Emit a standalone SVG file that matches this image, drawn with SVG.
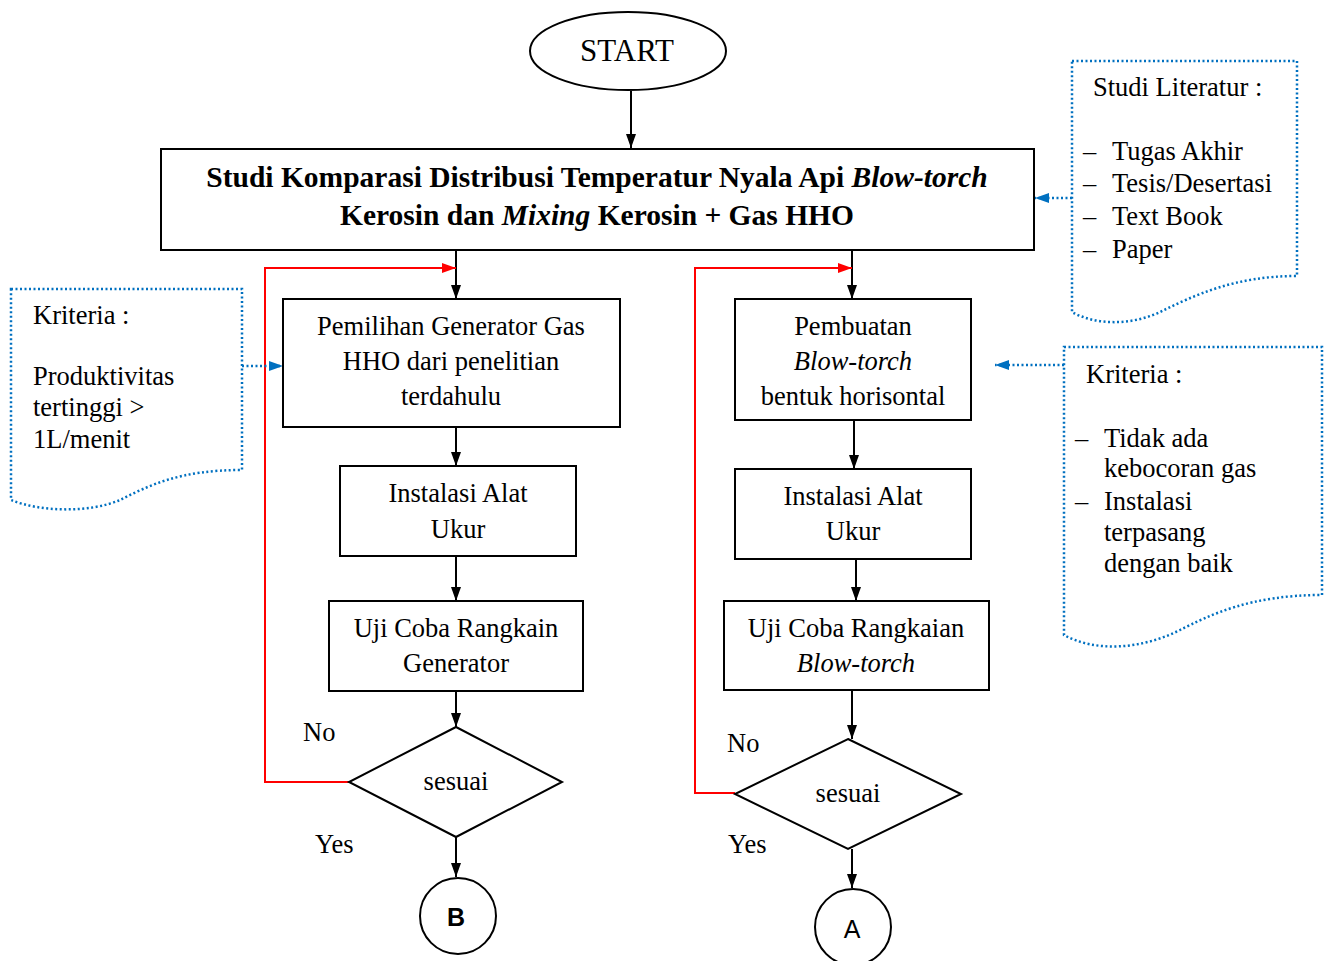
<svg xmlns="http://www.w3.org/2000/svg" width="1327" height="961" viewBox="0 0 1327 961">
<defs>
<marker id="ab" viewBox="0 0 14 10" refX="14" refY="5" markerWidth="14" markerHeight="10" markerUnits="userSpaceOnUse" orient="auto"><path d="M0,0 L14,5 L0,10 Z" fill="#000"/></marker>
<marker id="ar" viewBox="0 0 14 10" refX="14" refY="5" markerWidth="14" markerHeight="10" markerUnits="userSpaceOnUse" orient="auto"><path d="M0,0 L14,5 L0,10 Z" fill="#FF0000"/></marker>
<marker id="abl" viewBox="0 0 14 10" refX="14" refY="5" markerWidth="14" markerHeight="10" markerUnits="userSpaceOnUse" orient="auto"><path d="M0,0 L14,5 L0,10 Z" fill="#0070C0"/></marker>
</defs>
<style>
.box{fill:#fff;stroke:#000;stroke-width:2}
.doc{fill:#fff;stroke:#0070C0;stroke-width:2.5;stroke-dasharray:2 2.5}
.t{font-family:"Liberation Serif","Times New Roman",serif;font-size:26.5px;fill:#000}
.h{font-size:29.5px;font-weight:bold}
.st{font-size:31px}
.c{text-anchor:middle}
.i{font-style:italic}
.blk{stroke:#000;stroke-width:2;fill:none}
.red{stroke:#FF0000;stroke-width:2;fill:none}
.bl{stroke:#0070C0;stroke-width:2.5;stroke-dasharray:2 2.5;fill:none}
.s{font-family:"Liberation Sans",Arial,sans-serif;font-size:25px;fill:#000;text-anchor:middle}
.sb{font-weight:bold}
</style>
<rect width="1327" height="961" fill="#fff"/>
<g id="connectors">
<line class="blk" x1="631" y1="91" x2="631" y2="148" marker-end="url(#ab)"/>
<line class="blk" x1="456" y1="250" x2="456" y2="299" marker-end="url(#ab)"/>
<line class="blk" x1="456" y1="427" x2="456" y2="466" marker-end="url(#ab)"/>
<line class="blk" x1="456" y1="556" x2="456" y2="601" marker-end="url(#ab)"/>
<line class="blk" x1="456" y1="691" x2="456" y2="727" marker-end="url(#ab)"/>
<line class="blk" x1="456" y1="837" x2="456" y2="877" marker-end="url(#ab)"/>
<polyline class="red" points="349,782 265,782 265,268 456,268" marker-end="url(#ar)"/>
<line class="blk" x1="852" y1="250" x2="852" y2="299" marker-end="url(#ab)"/>
<line class="blk" x1="854" y1="420" x2="854" y2="469" marker-end="url(#ab)"/>
<line class="blk" x1="856" y1="559" x2="856" y2="601" marker-end="url(#ab)"/>
<line class="blk" x1="852" y1="690" x2="852" y2="739" marker-end="url(#ab)"/>
<line class="blk" x1="852" y1="849" x2="852" y2="888" marker-end="url(#ab)"/>
<polyline class="red" points="735,793 695,793 695,268 852,268" marker-end="url(#ar)"/>
<line class="bl" x1="1072" y1="198" x2="1035" y2="198" marker-end="url(#abl)"/>
<line class="bl" x1="242" y1="366" x2="283" y2="366" marker-end="url(#abl)"/>
<line class="bl" x1="1064" y1="365" x2="995" y2="365" marker-end="url(#abl)"/>
</g>
<g id="start">
<ellipse class="box" cx="628" cy="51" rx="98" ry="39"/>
<text class="t st c" x="627" y="61">START</text>
</g>
<g id="title">
<rect class="box" x="161" y="149" width="873" height="101"/>
<text class="t h c" x="597" y="187">Studi Komparasi Distribusi Temperatur Nyala Api <tspan class="i">Blow-torch</tspan></text>
<text class="t h c" x="597" y="225">Kerosin dan <tspan class="i">Mixing</tspan> Kerosin + Gas HHO</text>
</g>
<g id="literatur">
<path class="doc" d="M1072,61 H1297 V276 C1235,276 1195,295 1160,312 C1130,326 1095,325 1072,312 Z"/>
<text class="t" x="1093" y="96">Studi Literatur :</text>
<text class="t" x="1083" y="160">–</text><text class="t" x="1112" y="160">Tugas Akhir</text>
<text class="t" x="1083" y="192">–</text><text class="t" x="1112" y="192">Tesis/Desertasi</text>
<text class="t" x="1083" y="225">–</text><text class="t" x="1112" y="225">Text Book</text>
<text class="t" x="1083" y="258">–</text><text class="t" x="1112" y="258">Paper</text>
</g>
<g id="kriteria1">
<path class="doc" d="M11,289 H242 V470 C180,470 150,485 120,500 C90,513 40,512 11,500 Z"/>
<text class="t" x="33" y="324">Kriteria :</text>
<text class="t" x="33" y="385">Produktivitas</text>
<text class="t" x="33" y="416">tertinggi &gt;</text>
<text class="t" x="33" y="448">1L/menit</text>
</g>
<g id="kriteria2">
<path class="doc" d="M1064,347 H1322 V595 C1250,595 1210,615 1180,630 C1140,650 1095,652 1064,635 Z"/>
<text class="t" x="1086" y="383">Kriteria :</text>
<text class="t" x="1075" y="447">–</text><text class="t" x="1104" y="447">Tidak ada</text>
<text class="t" x="1104" y="477">kebocoran gas</text>
<text class="t" x="1075" y="510">–</text><text class="t" x="1104" y="510">Instalasi</text>
<text class="t" x="1104" y="541">terpasang</text>
<text class="t" x="1104" y="572">dengan baik</text>
</g>
<g id="pemilihan">
<rect class="box" x="283" y="299" width="337" height="128"/>
<text class="t c" x="451" y="335">Pemilihan Generator Gas</text>
<text class="t c" x="451" y="370">HHO dari penelitian</text>
<text class="t c" x="451" y="405">terdahulu</text>
</g>
<g id="instalasi1">
<rect class="box" x="340" y="466" width="236" height="90"/>
<text class="t c" x="458" y="502">Instalasi Alat</text>
<text class="t c" x="458" y="538">Ukur</text>
</g>
<g id="ujicoba1">
<rect class="box" x="329" y="601" width="254" height="90"/>
<text class="t c" x="456" y="637">Uji Coba Rangkain</text>
<text class="t c" x="456" y="672">Generator</text>
</g>
<g id="sesuai1">
<polygon class="box" points="456,727 562,782 456,837 349,782"/>
<text class="t c" x="456" y="790">sesuai</text>
<text class="t" x="303" y="741">No</text>
<text class="t" x="315" y="853">Yes</text>
</g>
<g id="B">
<circle class="box" cx="458" cy="916" r="38"/>
<text class="s sb" x="456" y="926">B</text>
</g>
<g id="pembuatan">
<rect class="box" x="735" y="299" width="236" height="121"/>
<text class="t c" x="853" y="335">Pembuatan</text>
<text class="t c i" x="853" y="370">Blow-torch</text>
<text class="t c" x="853" y="405">bentuk horisontal</text>
</g>
<g id="instalasi2">
<rect class="box" x="735" y="469" width="236" height="90"/>
<text class="t c" x="853" y="505">Instalasi Alat</text>
<text class="t c" x="853" y="540">Ukur</text>
</g>
<g id="ujicoba2">
<rect class="box" x="724" y="601" width="265" height="89"/>
<text class="t c" x="856" y="637">Uji Coba Rangkaian</text>
<text class="t c i" x="856" y="672">Blow-torch</text>
</g>
<g id="sesuai2">
<polygon class="box" points="848,739 961,794 848,849 735,794"/>
<text class="t c" x="848" y="802">sesuai</text>
<text class="t" x="727" y="752">No</text>
<text class="t" x="728" y="853">Yes</text>
</g>
<g id="A">
<circle class="box" cx="853" cy="927" r="38"/>
<text class="s" x="852" y="938">A</text>
</g>
</svg>
